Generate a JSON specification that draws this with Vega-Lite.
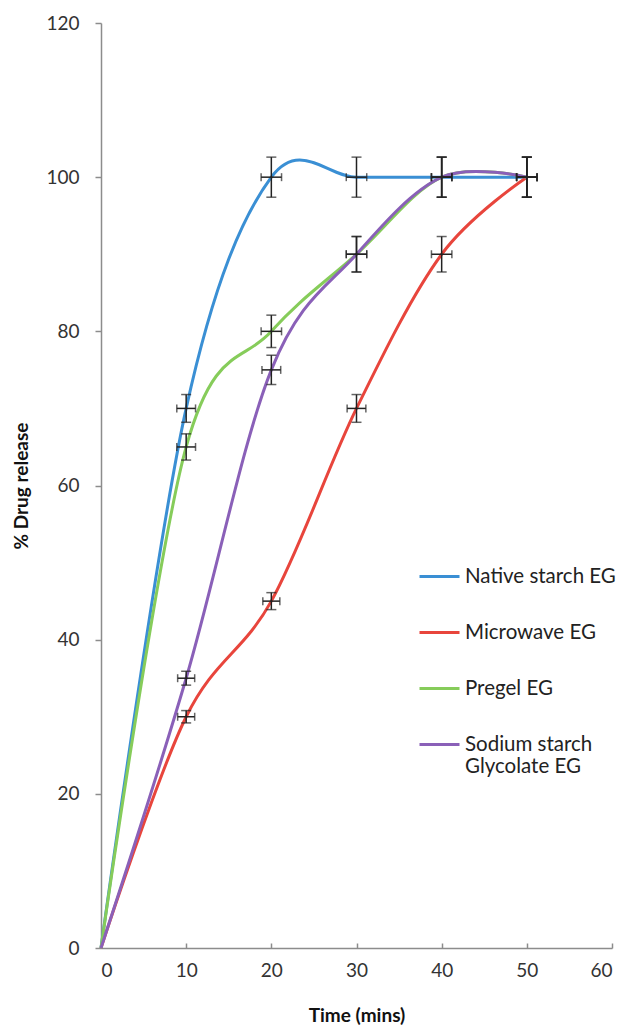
{
  "$schema": "https://vega.github.io/schema/vega-lite/v6.json",
  "width": 511,
  "height": 925,
  "autosize": {"type": "none"},
  "padding": {"left": 101, "top": 23, "right": 16, "bottom": 77},
  "background": "white",
  "config": {
    "view": {"stroke": null},
    "font": "Lato",
    "axis": {"grid": false, "domainColor": "#8c8c8c", "tickColor": "#8c8c8c", "domainWidth": 1.5, "tickWidth": 1.5, "labelFont": "Lato", "labelFontSize": 19, "labelColor": "#333333", "titleFont": "Lato", "titleFontSize": 19, "titleFontWeight": "bold", "titleColor": "#111111"}
  },
  "data": {"values": [
    {"series": "Native starch EG", "time": 0, "value": 0, "ylo": 0, "yhi": 0, "xlo": 0, "xhi": 0},
    {"series": "Native starch EG", "time": 10, "value": 70, "ylo": 68.2, "yhi": 71.8, "xlo": 8.9, "xhi": 11.1},
    {"series": "Native starch EG", "time": 20, "value": 100, "ylo": 97.4, "yhi": 102.6, "xlo": 18.8, "xhi": 21.2},
    {"series": "Native starch EG", "time": 30, "value": 100, "ylo": 97.4, "yhi": 102.6, "xlo": 28.8, "xhi": 31.2},
    {"series": "Native starch EG", "time": 40, "value": 100, "ylo": 97.4, "yhi": 102.6, "xlo": 38.8, "xhi": 41.2},
    {"series": "Native starch EG", "time": 50, "value": 100, "ylo": 97.4, "yhi": 102.6, "xlo": 48.8, "xhi": 51.2},
    {"series": "Microwave EG", "time": 0, "value": 0, "ylo": 0, "yhi": 0, "xlo": 0, "xhi": 0},
    {"series": "Microwave EG", "time": 10, "value": 30, "ylo": 29.2, "yhi": 30.8, "xlo": 9, "xhi": 11},
    {"series": "Microwave EG", "time": 20, "value": 45, "ylo": 43.9, "yhi": 46.1, "xlo": 19, "xhi": 21},
    {"series": "Microwave EG", "time": 30, "value": 70, "ylo": 68.2, "yhi": 71.8, "xlo": 28.9, "xhi": 31.1},
    {"series": "Microwave EG", "time": 40, "value": 90, "ylo": 87.7, "yhi": 92.3, "xlo": 38.8, "xhi": 41.2},
    {"series": "Microwave EG", "time": 50, "value": 100, "ylo": 97.4, "yhi": 102.6, "xlo": 48.8, "xhi": 51.2},
    {"series": "Pregel EG", "time": 0, "value": 0, "ylo": 0, "yhi": 0, "xlo": 0, "xhi": 0},
    {"series": "Pregel EG", "time": 10, "value": 65, "ylo": 63.3, "yhi": 66.7, "xlo": 8.9, "xhi": 11.1},
    {"series": "Pregel EG", "time": 20, "value": 80, "ylo": 77.9, "yhi": 82.1, "xlo": 18.8, "xhi": 21.2},
    {"series": "Pregel EG", "time": 30, "value": 90, "ylo": 87.7, "yhi": 92.3, "xlo": 28.8, "xhi": 31.2},
    {"series": "Pregel EG", "time": 40, "value": 100, "ylo": 97.4, "yhi": 102.6, "xlo": 38.8, "xhi": 41.2},
    {"series": "Pregel EG", "time": 50, "value": 100, "ylo": 97.4, "yhi": 102.6, "xlo": 48.8, "xhi": 51.2},
    {"series": "Sodium starch Glycolate EG", "time": 0, "value": 0, "ylo": 0, "yhi": 0, "xlo": 0, "xhi": 0},
    {"series": "Sodium starch Glycolate EG", "time": 10, "value": 35, "ylo": 34.1, "yhi": 35.9, "xlo": 9, "xhi": 11},
    {"series": "Sodium starch Glycolate EG", "time": 20, "value": 75, "ylo": 73.1, "yhi": 76.9, "xlo": 18.9, "xhi": 21.1},
    {"series": "Sodium starch Glycolate EG", "time": 30, "value": 90, "ylo": 87.7, "yhi": 92.3, "xlo": 28.8, "xhi": 31.2},
    {"series": "Sodium starch Glycolate EG", "time": 40, "value": 100, "ylo": 97.4, "yhi": 102.6, "xlo": 38.8, "xhi": 41.2},
    {"series": "Sodium starch Glycolate EG", "time": 50, "value": 100, "ylo": 97.4, "yhi": 102.6, "xlo": 48.8, "xhi": 51.2}
  ]},
  "layer": [
    {
      "mark": {"type": "line", "interpolate": "cardinal", "strokeWidth": 3},
      "encoding": {
        "x": {"field": "time", "type": "quantitative", "scale": {"domain": [0, 60], "nice": false}, "axis": {"values": [0, 10, 20, 30, 40, 50, 60], "title": "Time (mins)", "tickSize": -5, "labelPadding": 18, "titlePadding": 26}},
        "y": {"field": "value", "type": "quantitative", "scale": {"domain": [0, 120], "nice": false}, "axis": {"values": [0, 20, 40, 60, 80, 100, 120], "title": "% Drug release", "tickSize": 6, "labelPadding": 16, "titlePadding": 14}},
        "color": {"field": "series", "type": "nominal",
          "scale": {"domain": ["Native starch EG", "Microwave EG", "Pregel EG", "Sodium starch Glycolate EG"], "range": ["#3a8fd4", "#e8453c", "#86cc5a", "#8a60b8"]},
          "legend": {"title": null, "orient": "none", "legendX": 317, "legendY": 532, "symbolType": "stroke", "symbolSize": 1600, "symbolStrokeWidth": 3, "labelFont": "Lato", "labelFontSize": 20.5, "labelColor": "#222222", "labelLimit": 300, "rowPadding": 24, "labelOffset": 4,
            "labelExpr": "datum.label == 'Sodium starch Glycolate EG' ? ['Sodium starch', 'Glycolate EG'] : datum.label"}
        }
      }
    },
    {
      "transform": [{"filter": "datum.time > 0"}],
      "mark": {"type": "rule", "color": "#222222", "strokeWidth": 1.5},
      "encoding": {"x": {"field": "time", "type": "quantitative"}, "y": {"field": "ylo", "type": "quantitative"}, "y2": {"field": "yhi"}}
    },
    {
      "transform": [{"filter": "datum.time > 0"}],
      "mark": {"type": "tick", "orient": "horizontal", "color": "#222222", "size": 10, "thickness": 1.5},
      "encoding": {"x": {"field": "time", "type": "quantitative"}, "y": {"field": "ylo", "type": "quantitative"}}
    },
    {
      "transform": [{"filter": "datum.time > 0"}],
      "mark": {"type": "tick", "orient": "horizontal", "color": "#222222", "size": 10, "thickness": 1.5},
      "encoding": {"x": {"field": "time", "type": "quantitative"}, "y": {"field": "yhi", "type": "quantitative"}}
    },
    {
      "transform": [{"filter": "datum.time > 0"}],
      "mark": {"type": "rule", "color": "#222222", "strokeWidth": 1.5},
      "encoding": {"y": {"field": "value", "type": "quantitative"}, "x": {"field": "xlo", "type": "quantitative"}, "x2": {"field": "xhi"}}
    },
    {
      "transform": [{"filter": "datum.time > 0"}],
      "mark": {"type": "tick", "orient": "vertical", "color": "#222222", "size": 8, "thickness": 1.5},
      "encoding": {"x": {"field": "xlo", "type": "quantitative"}, "y": {"field": "value", "type": "quantitative"}}
    },
    {
      "transform": [{"filter": "datum.time > 0"}],
      "mark": {"type": "tick", "orient": "vertical", "color": "#222222", "size": 8, "thickness": 1.5},
      "encoding": {"x": {"field": "xhi", "type": "quantitative"}, "y": {"field": "value", "type": "quantitative"}}
    }
  ]
}
